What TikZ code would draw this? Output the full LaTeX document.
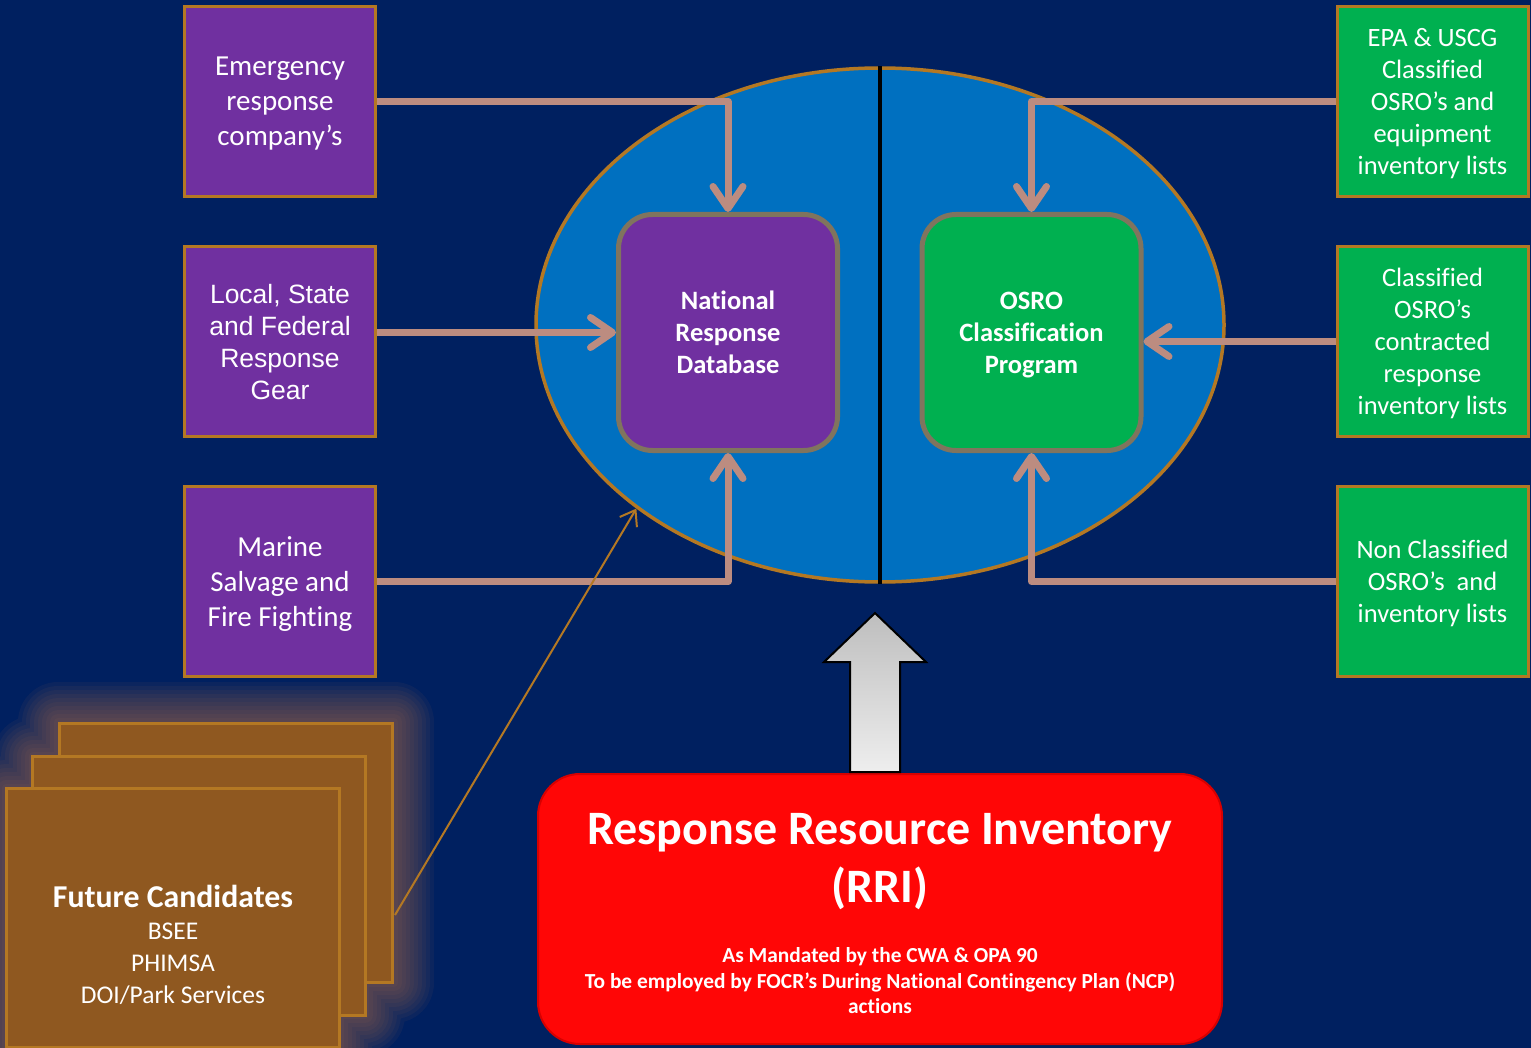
\documentclass[tikz,border=0pt]{standalone}
\usepackage{fontspec}
\setmainfont{Carlito}[Ligatures=NoCommon]
\newfontfamily\arialfont{Liberation Sans}
\usetikzlibrary{positioning,shapes.geometric,arrows.meta}
\definecolor{bgnavy}{RGB}{0,32,96}
\definecolor{poolblue}{RGB}{0,112,192}
\definecolor{boxpurple}{RGB}{112,48,160}
\definecolor{boxgreen}{RGB}{0,176,80}
\definecolor{rimbrown}{RGB}{180,120,35}
\definecolor{hubrim}{RGB}{128,116,94}
\definecolor{feedpink}{RGB}{188,140,128}
\definecolor{pagebrown}{RGB}{143,88,32}
\definecolor{glowbrown}{RGB}{175,110,70}
\definecolor{rrired}{RGB}{255,6,6}
\definecolor{rririm}{RGB}{215,0,0}
\definecolor{liftdark}{RGB}{190,190,190}
\definecolor{liftlight}{RGB}{238,238,238}
\tikzset{
    srcbox/.style={draw=rimbrown, line width=3pt, minimum width=191pt, minimum height=190pt, align=center, text=white, inner sep=0pt, text depth=0pt},
    hubbox/.style={draw=hubrim, line width=5pt, rounded corners=34pt, minimum width=219pt, minimum height=236pt, align=center, text=white, text depth=0pt, font=\fontsize{26.5}{32}\selectfont\bfseries},
    pool/.style={ellipse, draw=rimbrown, fill=poolblue, line width=3.5pt, minimum width=688pt, minimum height=514pt, inner sep=0pt},
    feed/.style={draw=feedpink, line width=7pt, line join=round, -{Straight Barb[length=22pt, width=30pt, round]}},
    pagebox/.style={draw=rimbrown, fill=pagebrown, line width=3pt, minimum width=333pt, minimum height=259pt},
    rribox/.style={draw=rririm, fill=rrired, line width=2pt, rounded corners=42pt, minimum width=684pt, minimum height=270pt},
    lift/.style={draw=black, line width=2pt, top color=liftdark, bottom color=liftlight}
}
\begin{document}
\begin{tikzpicture}[x=1pt,y=-1pt]
    \useasboundingbox (0,0) rectangle (1531,1048);
    \clip (0,0) rectangle (1531,1048);
    \fill[bgnavy] (0,0) rectangle (1531,1048);

    \node[srcbox, fill=boxpurple, font=\fontsize{29}{35}\selectfont] (emerg) at (280,101.5) {Emergency\\response\\company’s};
    \node[srcbox, fill=boxpurple, font=\arialfont\fontsize{26.5}{32}\selectfont, yshift=-240pt] (local) at (emerg) {Local, State\\and Federal\\Response\\Gear};
    \node[srcbox, fill=boxpurple, font=\fontsize{29}{35}\selectfont, yshift=-240pt] (marine) at (local) {Marine\\Salvage and\\Fire Fighting};

    \node[srcbox, fill=boxgreen, font=\fontsize{26.5}{32}\selectfont] (epa) at (1432.5,101.5) {EPA \& USCG\\Classified\\OSRO’s and\\equipment\\inventory lists};
    \node[srcbox, fill=boxgreen, font=\fontsize{26.5}{32}\selectfont, yshift=-240pt] (classd) at (epa) {Classified\\OSRO’s\\contracted\\response\\inventory lists};
    \node[srcbox, fill=boxgreen, font=\fontsize{26.5}{32}\selectfont, yshift=-240pt] (noncl) at (classd) {Non Classified\\OSRO’s~ and\\inventory lists};

    \node[pool] (pool) at (880,325) {};
    \draw[line width=4pt] (pool.north) -- (pool.south);
    \node[hubbox, fill=boxpurple] (nrd) at (728,332.5) {National\\Response\\Database};
    \node[hubbox, fill=boxgreen] (osro) at (1031.5,332.5) {OSRO\\Classification\\Program};

    \draw[feed] (emerg.east) -| (nrd.north);
    \draw[feed] (local.east |- nrd.west) -- (nrd.west);
    \draw[feed] (marine.east) -| (nrd.south);
    \draw[feed] (epa.west) -| (osro.north);
    \draw[feed] (classd.west) -- (classd.west -| osro.east);
    \draw[feed] (noncl.west) -| (osro.south);

    \foreach \w in {8,16,...,80}
        \draw[glowbrown, line width=\w pt, line join=round, opacity=0.07] (58,722) -- (394,722) -- (394,983) -- (365,983) -- (365,1015) -- (340,1015) -- (340,1048) -- (6,1048) -- (6,788) -- (33,788) -- (33,756) -- (58,756) -- cycle;
    \node[pagebox] (pageback) at (226,852.5) {};
    \node[pagebox, xshift=-27pt, yshift=-33pt] (pagemid) at (pageback) {};
    \node[pagebox, xshift=-26pt, yshift=-32pt] (pagefront) at (pagemid) {};
    \node[text=white, align=center, font=\fontsize{25.5}{32}\selectfont] (future) at (173,945) {{\fontsize{31.8}{36}\selectfont\bfseries Future Candidates}\\BSEE\\PHIMSA\\DOI/Park Services};
    \coordinate (hint) at (395,915);
    \draw[rimbrown, line width=2pt, -{Straight Barb[length=14pt, width=20pt]}] (hint) -- (pool.217);

    \node[rribox] (rri) at (880,909) {};
    \draw[lift] (850,772) -- (850,662) -- (824,662) -- (875,613) -- (926,662) -- (900,662) -- (900,772) -- cycle;
    \node[text=white, align=center, font=\fontsize{48}{58}\selectfont\bfseries] (rrititle) at (880,862) {Response Resource Inventory\\(RRI)};
    \node[text=white, align=center, font=\fontsize{21.4}{25.5}\selectfont\bfseries] (rrinote) at (880,981) {As Mandated by the CWA \& OPA 90\\To be employed by FOCR’s During National Contingency Plan (NCP)\\actions};
\end{tikzpicture}
\end{document}
